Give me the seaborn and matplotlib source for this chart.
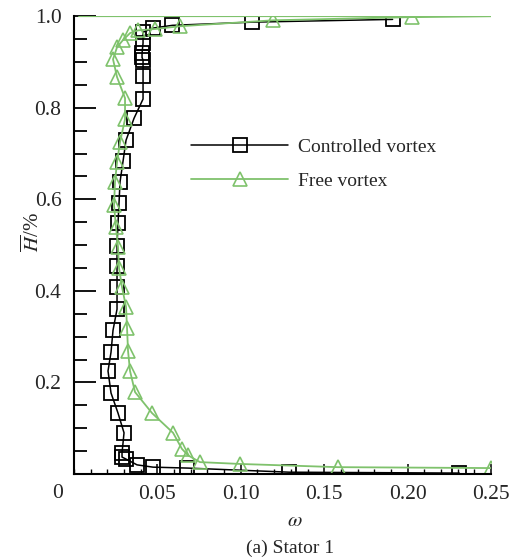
import pandas as pd
import seaborn as sns
import matplotlib.pyplot as plt
from matplotlib.ticker import MultipleLocator

# Controlled vortex (squares), traced from hub to tip and along the tip
ctrl_w = [0.231, 0.129, 0.068, 0.0474, 0.0378, 0.031, 0.0288, 0.0288, 0.030,
          0.0264, 0.0222, 0.0204, 0.0222, 0.0234, 0.0258, 0.0258, 0.0258,
          0.0258, 0.0264, 0.027, 0.0276, 0.0294, 0.0312, 0.036, 0.0414,
          0.0414, 0.0414, 0.0408, 0.0408, 0.0414, 0.0414, 0.0474, 0.059,
          0.107, 0.191]
ctrl_h = [0.002, 0.004, 0.013, 0.015, 0.020, 0.033, 0.037, 0.046, 0.090,
          0.133, 0.177, 0.225, 0.266, 0.314, 0.360, 0.408, 0.454,
          0.498, 0.548, 0.592, 0.638, 0.683, 0.729, 0.777, 0.819,
          0.869, 0.904, 0.910, 0.919, 0.941, 0.965, 0.974, 0.980,
          0.987, 0.993]

# Free vortex (triangles)
free_w = [0.25, 0.158, 0.0995, 0.0755, 0.0683, 0.0647, 0.0594, 0.0468, 0.0366,
          0.0336, 0.0324, 0.0318, 0.0312, 0.0288, 0.027, 0.0264, 0.0252,
          0.024, 0.0246, 0.0258, 0.0276, 0.0306, 0.0306, 0.0258, 0.0234,
          0.0258, 0.0294, 0.0336, 0.0384, 0.0486, 0.0635, 0.1193, 0.2026,
          0.25, 0.003]
free_h = [0.013, 0.015, 0.022, 0.026, 0.041, 0.055, 0.090, 0.133, 0.179,
          0.225, 0.269, 0.319, 0.365, 0.408, 0.450, 0.496, 0.539,
          0.587, 0.638, 0.681, 0.725, 0.775, 0.821, 0.867, 0.906,
          0.932, 0.948, 0.963, 0.969, 0.972, 0.978, 0.991, 0.998,
          1.0, 1.0]
free_marked = [True] * 33 + [False, False]

green = "#7fc26c"

sns.set_theme(style="ticks")
plt.rcParams["font.family"] = ["Liberation Serif", "DejaVu Serif"]
plt.rcParams["mathtext.fontset"] = "stix"

fig = plt.figure(figsize=(5.12, 5.58), dpi=100)
ax = fig.add_axes([0.1445, 0.1505, 0.8145, 0.8205])

ctrl = pd.DataFrame({"w": ctrl_w, "h": ctrl_h})
free = pd.DataFrame({"w": free_w, "h": free_h})

sns.lineplot(data=ctrl, x="w", y="h", sort=False, estimator=None, ax=ax,
             color="black", lw=1.1, marker="s", markersize=9.5,
             markerfacecolor="none", markeredgecolor="black",
             markeredgewidth=1.3, label="Controlled vortex")
sns.lineplot(data=free, x="w", y="h", sort=False, estimator=None, ax=ax,
             color=green, lw=1.3, marker="^", markersize=9.5,
             markerfacecolor="none", markeredgecolor=green,
             markeredgewidth=1.2, markevery=free_marked, label="Free vortex")

ax.set_xlim(0, 0.25)
ax.set_ylim(0, 1.0)
ax.set_xticks([0.05, 0.10, 0.15, 0.20, 0.25])
ax.set_xticklabels(["0.05", "0.10", "0.15", "0.20", "0.25"])
ax.set_yticks([0.2, 0.4, 0.6, 0.8, 1.0])
ax.set_yticklabels(["0.2", "0.4", "0.6", "0.8", "1.0"])
ax.xaxis.set_minor_locator(MultipleLocator(0.01))
ax.yaxis.set_minor_locator(MultipleLocator(0.05))
ax.tick_params(axis="y", which="major", direction="in", length=16, width=1.3,
               pad=9, labelsize=15.5, color="black")
ax.tick_params(axis="y", which="minor", direction="in", length=9, width=1.3,
               color="black")
ax.tick_params(axis="x", which="major", direction="in", length=7, width=1.1,
               pad=8, labelsize=15.5, color="black")
ax.tick_params(axis="x", which="minor", direction="in", length=3.5, width=1.0,
               color="black")
sns.despine(ax=ax)
for s in ["left", "bottom"]:
    ax.spines[s].set_color("black")
    ax.spines[s].set_linewidth(1.5)
ax.set_xlabel("")
ax.set_ylabel("")

fig.text(58 / 512, 1 - 493 / 558, "0", ha="center", va="center", fontsize=15.5)
fig.text(33 / 512, 1 - 232 / 558, r"$\overline{H}$/%", rotation=90,
         ha="center", va="center", fontsize=15)
fig.text(295 / 512, 1 - 522 / 558, r"$\omega$", ha="center", va="center",
         fontsize=15)
fig.text(290 / 512, 1 - 548 / 558, "(a) Stator 1", ha="center", va="center",
         fontsize=14)

ax.legend(loc="upper left", bbox_to_anchor=(191 / 512, 1 - 138 / 558),
          bbox_transform=fig.transFigure, frameon=False, fontsize=14,
          handlelength=5.0, handletextpad=0.5, labelspacing=0.85,
          borderpad=0, borderaxespad=0, numpoints=1)

fig.savefig("out.png", dpi=100)
